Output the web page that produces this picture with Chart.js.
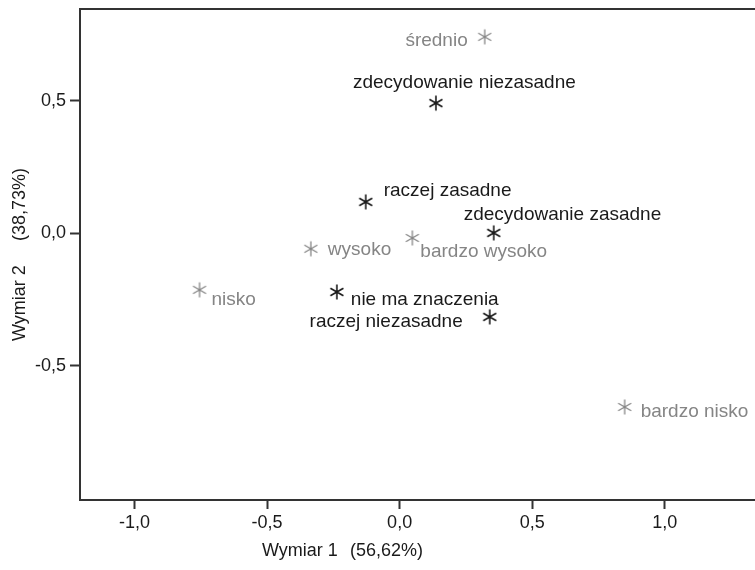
<!DOCTYPE html>
<html>
<head>
<meta charset="utf-8">
<script src="https://cdn.jsdelivr.net/npm/chart.js@4"></script>
<style>
  html, body { margin: 0; padding: 0; background: #fff; }
  #wrap { width: 755px; height: 570px; }
</style>
</head>
<body>
<div id="wrap"><canvas id="c" width="755" height="570"></canvas></div>
<script>
// ---- データ ----
// 意見カテゴリ（黒）
const opinionNames = ['zdecydowanie niezasadne', 'raczej zasadne', 'zdecydowanie zasadne', 'nie ma znaczenia', 'raczej niezasadne'];
const opinionX = [0.137, -0.128, 0.355, -0.237, 0.340];
const opinionY = [0.492, 0.119, 0.002, -0.221, -0.315];

// 水準カテゴリ（灰）
const levelNames = ['średnio', 'wysoko', 'bardzo wysoko', 'nisko', 'bardzo nisko'];
const levelX = [0.321, -0.335, 0.048, -0.755, 0.849];
const levelY = [0.742, -0.058, -0.017, -0.213, -0.655];

const xTicks = [-1.0, -0.5, 0.0, 0.5, 1.0];
const yTicks = [-0.5, 0.0, 0.5];
const xTitle = ['Wymiar 1', '(56,62%)'];
const yTitle = ['Wymiar 2', '(38,73%)'];

// ---- ラベル配置（点からのずれ） ----
const opinionPlace = [
  { align: 'left', dx: -83, dy: -20 },
  { align: 'left', dx: 18, dy: -11 },
  { align: 'left', dx: -30, dy: -18 },
  { align: 'left', dx: 14, dy: 8 },
  { align: 'right', dx: -27, dy: 5 },
];
const levelPlace = [
  { align: 'right', dx: -17, dy: 4 },
  { align: 'left', dx: 17, dy: 1 },
  { align: 'left', dx: 8, dy: 14 },
  { align: 'left', dx: 12, dy: 10 },
  { align: 'left', dx: 16, dy: 5 },
];

const BLACK = '#1a1a1a';
const GRAY = '#858585';
const AXIS = '#333333';
const FONT = '"Liberation Sans", Arial, sans-serif';

// ---- アスタリスク記号 ----
function makeAsterisk(color, lw) {
  const s = 18;
  const cv = document.createElement('canvas');
  cv.width = s; cv.height = s;
  const g = cv.getContext('2d');
  g.strokeStyle = color;
  g.lineWidth = lw;
  const r = 7.5;
  const c = s / 2;
  g.beginPath();
  [90, 30, -30].forEach((deg) => {
    const a = deg * Math.PI / 180;
    g.moveTo(c - r * Math.cos(a), c - r * Math.sin(a));
    g.lineTo(c + r * Math.cos(a), c + r * Math.sin(a));
  });
  g.stroke();
  return cv;
}

// ---- ラベル・枠描画プラグイン ----
const labelPlugin = {
  id: 'pointLabels',
  afterDatasetsDraw(chart) {
    const ctx = chart.ctx;
    const area = chart.chartArea;
    ctx.save();
    // 上枠と下枠（右端まで）
    ctx.strokeStyle = AXIS;
    ctx.lineWidth = 2;
    ctx.beginPath();
    ctx.moveTo(area.left - 1, area.top);
    ctx.lineTo(chart.width, area.top);
    ctx.moveTo(area.left - 1, area.bottom);
    ctx.lineTo(chart.width, area.bottom);
    ctx.stroke();

    ctx.font = '19px ' + FONT;
    ctx.textBaseline = 'middle';
    chart.data.datasets.forEach((ds, di) => {
      const meta = chart.getDatasetMeta(di);
      meta.data.forEach((pt, i) => {
        const pl = ds.place[i];
        ctx.fillStyle = ds.textColor;
        ctx.textAlign = pl.align;
        ctx.fillText(ds.names[i], pt.x + pl.dx, pt.y + pl.dy);
      });
    });

    // 軸タイトル
    ctx.font = '18px ' + FONT;
    ctx.fillStyle = BLACK;
    ctx.textAlign = 'left';
    ctx.fillText(xTitle[0], 262, 551);
    ctx.fillText(xTitle[1], 350, 551);
    ctx.translate(20, 0);
    ctx.rotate(-Math.PI / 2);
    ctx.fillText(yTitle[0], -341, 0);
    ctx.fillText(yTitle[1], -241, 0);
    ctx.restore();
  },
};

const fmt = (v) => v.toFixed(1).replace('.', ',');

new Chart(document.getElementById('c'), {
  type: 'scatter',
  data: {
    datasets: [
      {
        label: 'opinie',
        data: opinionX.map((x, i) => ({ x, y: opinionY[i] })),
        names: opinionNames,
        place: opinionPlace,
        textColor: BLACK,
        pointStyle: makeAsterisk(BLACK, 1.6),
      },
      {
        label: 'poziom',
        data: levelX.map((x, i) => ({ x, y: levelY[i] })),
        names: levelNames,
        place: levelPlace,
        textColor: GRAY,
        pointStyle: makeAsterisk(GRAY, 1.3),
      },
    ],
  },
  options: {
    responsive: false,
    animation: false,
    layout: { padding: { top: 9, right: 0, left: 0, bottom: 0 } },
    plugins: {
      legend: { display: false },
      tooltip: { enabled: false },
    },
    scales: {
      x: {
        type: 'linear',
        min: -1.206,
        max: 1.322,
        afterBuildTicks: (s) => { s.ticks = xTicks.map((v) => ({ value: v })); },
        afterFit: (s) => { s.height = 70; s.paddingLeft = 0; s.paddingRight = 0; },
        ticks: {
          callback: (v) => fmt(v),
          color: BLACK,
          font: { family: FONT, size: 18 },
          padding: 3,
          maxRotation: 0,
        },
        grid: { drawOnChartArea: false, drawTicks: true, tickLength: 9, tickColor: AXIS, tickWidth: 2 },
        border: { display: true, color: AXIS, width: 2 },
      },
      y: {
        type: 'linear',
        min: -1.006,
        max: 0.847,
        afterBuildTicks: (s) => { s.ticks = yTicks.map((v) => ({ value: v })); },
        afterFit: (s) => { s.width = 80; s.paddingTop = 0; s.paddingBottom = 0; },
        ticks: {
          callback: (v) => fmt(v),
          color: BLACK,
          font: { family: FONT, size: 18 },
          padding: 4,
        },
        grid: { drawOnChartArea: false, drawTicks: true, tickLength: 10, tickColor: AXIS, tickWidth: 2 },
        border: { display: true, color: AXIS, width: 2 },
      },
    },
  },
  plugins: [labelPlugin],
});
</script>
</body>
</html>
